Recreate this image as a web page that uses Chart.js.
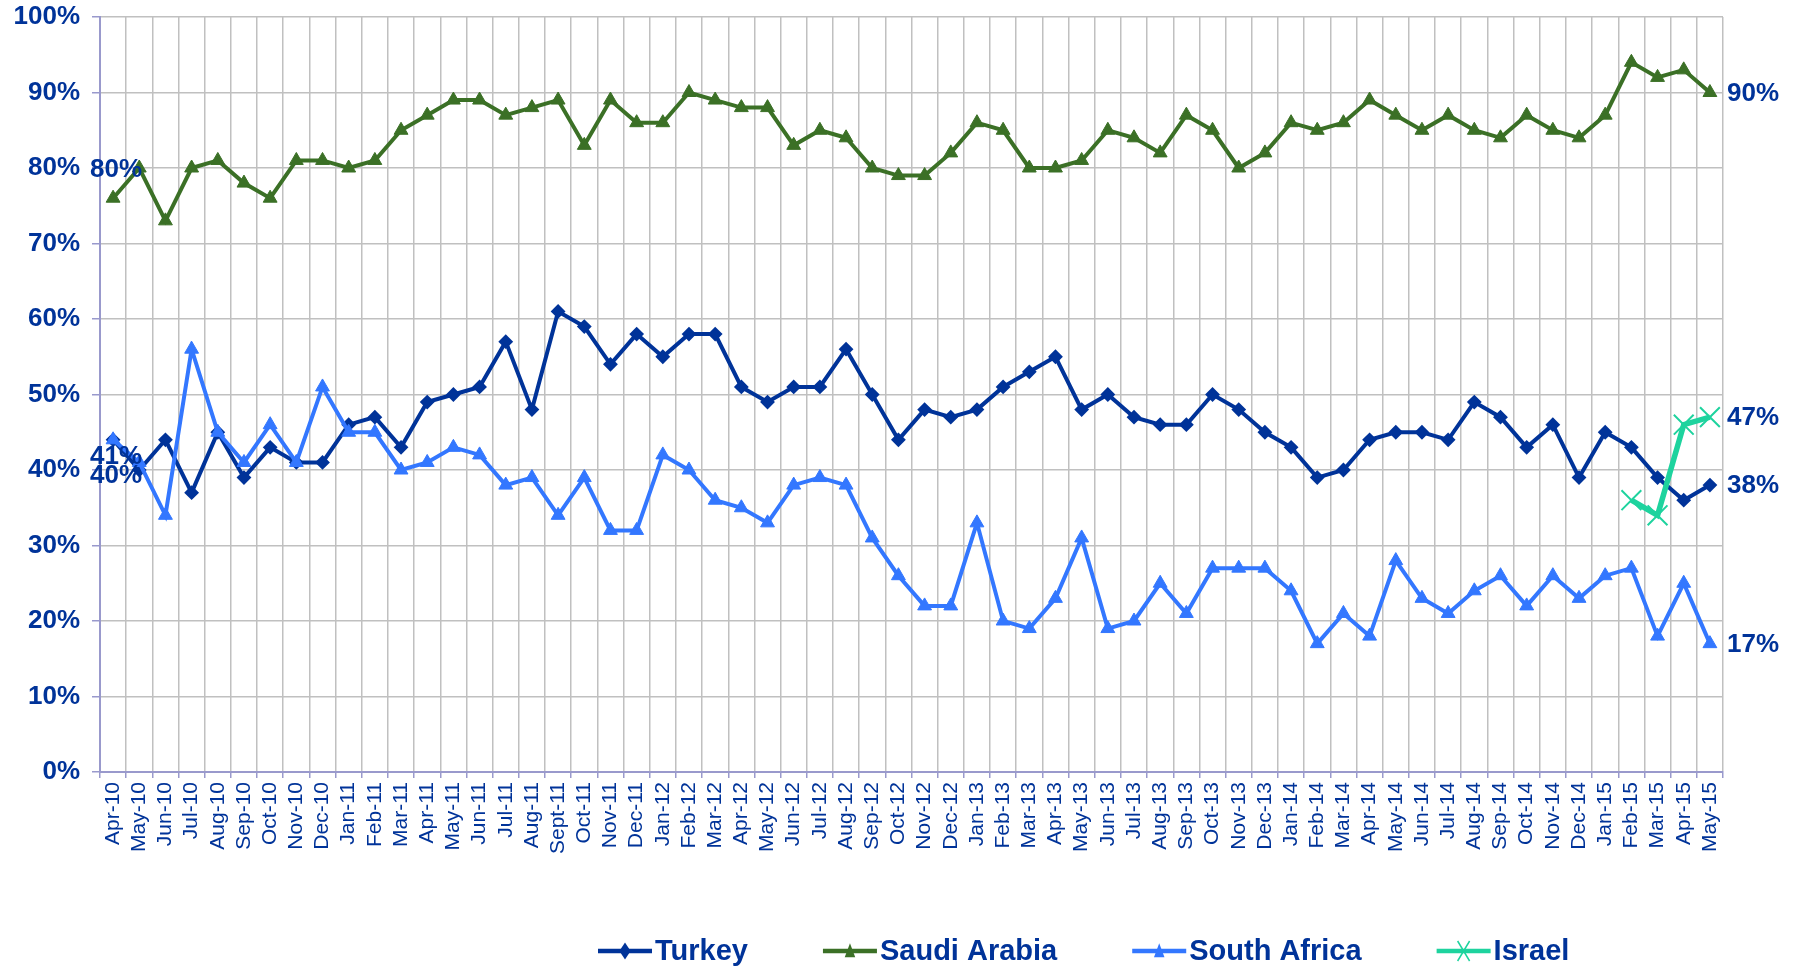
<!DOCTYPE html>
<html>
<head>
<meta charset="utf-8">
<script src="https://cdn.jsdelivr.net/npm/chart.js@4.4.1/dist/chart.umd.min.js"></script>
<style>
    html, body { margin: 0; padding: 0; background: #fff; }
    #wrap { width: 1794px; height: 967px; }
</style>
</head>
<body>
<div id="wrap"><canvas id="trendChart"></canvas></div>
<script>
const trendChart = document.getElementById('trendChart');

const FONT = '"Liberation Sans", Arial, sans-serif';
const TEXT_BLUE = '#003399';

const months = [
    'Apr-10', 'May-10', 'Jun-10', 'Jul-10', 'Aug-10', 'Sep-10', 'Oct-10', 'Nov-10', 'Dec-10',
    'Jan-11', 'Feb-11', 'Mar-11', 'Apr-11', 'May-11', 'Jun-11', 'Jul-11', 'Aug-11', 'Sept-11', 'Oct-11', 'Nov-11', 'Dec-11',
    'Jan-12', 'Feb-12', 'Mar-12', 'Apr-12', 'May-12', 'Jun-12', 'Jul-12', 'Aug-12', 'Sep-12', 'Oct-12', 'Nov-12', 'Dec-12',
    'Jan-13', 'Feb-13', 'Mar-13', 'Apr-13', 'May-13', 'Jun-13', 'Jul-13', 'Aug-13', 'Sep-13', 'Oct-13', 'Nov-13', 'Dec-13',
    'Jan-14', 'Feb-14', 'Mar-14', 'Apr-14', 'May-14', 'Jun-14', 'Jul-14', 'Aug-14', 'Sep-14', 'Oct-14', 'Nov-14', 'Dec-14',
    'Jan-15', 'Feb-15', 'Mar-15', 'Apr-15', 'May-15'
];

const turkey = [
    44, 40, 44, 37, 45, 39, 43, 41, 41,
    46, 47, 43, 49, 50, 51, 57, 48, 61, 59, 54, 58,
    55, 58, 58, 51, 49, 51, 51, 56, 50, 44, 48, 47,
    48, 51, 53, 55, 48, 50, 47, 46, 46, 50, 48, 45,
    43, 39, 40, 44, 45, 45, 44, 49, 47, 43, 46, 39,
    45, 43, 39, 36, 38
];

const saudiArabia = [
    76, 80, 73, 80, 81, 78, 76, 81, 81,
    80, 81, 85, 87, 89, 89, 87, 88, 89, 83, 89, 86,
    86, 90, 89, 88, 88, 83, 85, 84, 80, 79, 79, 82,
    86, 85, 80, 80, 81, 85, 84, 82, 87, 85, 80, 82,
    86, 85, 86, 89, 87, 85, 87, 85, 84, 87, 85, 84,
    87, 94, 92, 93, 90
];

const southAfrica = [
    44, 41, 34, 56, 45, 41, 46, 41, 51,
    45, 45, 40, 41, 43, 42, 38, 39, 34, 39, 32, 32,
    42, 40, 36, 35, 33, 38, 39, 38, 31, 26, 22, 22,
    33, 20, 19, 23, 31, 19, 20, 25, 21, 27, 27, 27,
    24, 17, 21, 18, 28, 23, 21, 24, 26, 22, 26, 23,
    26, 27, 18, 25, 17
];

const israel = [
    null, null, null, null, null, null, null, null, null,
    null, null, null, null, null, null, null, null, null, null, null, null,
    null, null, null, null, null, null, null, null, null, null, null, null,
    null, null, null, null, null, null, null, null, null, null, null, null,
    null, null, null, null, null, null, null, null, null, null, null, null,
    null, 36, 34, 46, 47
];

const yTicks = [0, 10, 20, 30, 40, 50, 60, 70, 80, 90, 100];

// value labels: [dataset index, point index]
const startLabels = [[1, 1], [2, 1], [0, 1]];
const endLabels = [[1, 61], [3, 61], [0, 61], [2, 61]];

function marker(ctx, style, color, cx, cy, r) {
    ctx.fillStyle = color;
    ctx.strokeStyle = color;
    ctx.beginPath();
    if (style === 'rectRot') {
        ctx.moveTo(cx, cy - r * 1.2);
        ctx.lineTo(cx + r * 0.8, cy);
        ctx.lineTo(cx, cy + r * 1.2);
        ctx.lineTo(cx - r * 0.8, cy);
        ctx.closePath();
        ctx.fill();
    } else if (style === 'triangle') {
        ctx.moveTo(cx, cy - r * 1.1);
        ctx.lineTo(cx + r * 0.75, cy + r * 0.9);
        ctx.lineTo(cx - r * 0.75, cy + r * 0.9);
        ctx.closePath();
        ctx.fill();
    } else {
        ctx.lineWidth = 1.5;
        ctx.moveTo(cx - r * 0.6, cy - r);
        ctx.lineTo(cx + r * 0.6, cy + r);
        ctx.moveTo(cx + r * 0.6, cy - r);
        ctx.lineTo(cx - r * 0.6, cy + r);
        ctx.stroke();
    }
}

const labelsPlugin = {
    id: 'valueLabels',
    afterDatasetsDraw(chart) {
        const ctx = chart.ctx;
        const xs = chart.scales.x;
        const ys = chart.scales.y;
        const ds = chart.data.datasets;
        ctx.save();
        ctx.font = 'bold 26px ' + FONT;
        ctx.fillStyle = TEXT_BLUE;
        ctx.textBaseline = 'middle';
        ctx.textAlign = 'center';
        const nudge = [2, -6, 6];
        startLabels.forEach(([d, i], k) => {
            const v = ds[d].data[i];
            ctx.fillText(v + '%', xs.getPixelForValue(0) + 3, ys.getPixelForValue(v) + nudge[k]);
        });
        ctx.textAlign = 'left';
        endLabels.forEach(([d, i]) => {
            const v = ds[d].data[i];
            ctx.fillText(v + '%', chart.chartArea.right + 4, ys.getPixelForValue(v) + 1);
        });
        ctx.restore();
    },
    afterDraw(chart) {
        // legend: line sample with marker, then name
        const ctx = chart.ctx;
        ctx.save();
        ctx.font = 'bold 29px ' + FONT;
        ctx.textBaseline = 'middle';
        ctx.textAlign = 'left';
        let x = 598;
        const y = 951;
        chart.data.datasets.forEach((d) => {
            ctx.strokeStyle = d.borderColor;
            ctx.lineWidth = 4.5;
            ctx.beginPath();
            ctx.moveTo(x, y);
            ctx.lineTo(x + 54, y);
            ctx.stroke();
            marker(ctx, d.pointStyle, d.borderColor, x + 27, y, d.pointStyle === 'crossRot' ? 10 : 7);
            ctx.fillStyle = TEXT_BLUE;
            ctx.fillText(d.label, x + 57, y + 1);
            x += 57 + ctx.measureText(d.label).width + 75;
        });
        ctx.restore();
    }
};

new Chart(trendChart, {
    type: 'line',
    data: {
        labels: months,
        datasets: [
            {
                label: 'Turkey',
                data: turkey,
                borderColor: '#003399',
                backgroundColor: '#003399',
                borderWidth: 4,
                pointStyle: 'rectRot',
                pointRadius: 6,
                pointBorderWidth: 2,
                order: 4,
            },
            {
                label: 'Saudi Arabia',
                data: saudiArabia,
                borderColor: '#3B7026',
                backgroundColor: '#3B7026',
                borderWidth: 4,
                pointStyle: 'triangle',
                pointRadius: 8,
                pointBorderWidth: 1,
                order: 3,
            },
            {
                label: 'South Africa',
                data: southAfrica,
                borderColor: '#3377FF',
                backgroundColor: '#3377FF',
                borderWidth: 4,
                pointStyle: 'triangle',
                pointRadius: 8,
                pointBorderWidth: 1,
                order: 2,
            },
            {
                label: 'Israel',
                data: israel,
                borderColor: '#1ED39E',
                backgroundColor: '#1ED39E',
                borderWidth: 5.5,
                pointStyle: 'crossRot',
                pointRadius: 14,
                pointBorderWidth: 2,
                order: 1,
            },
        ],
    },
    options: {
        responsive: true,
        maintainAspectRatio: false,
        animation: false,
        layout: {
            padding: { top: 17, right: 71, bottom: 0, left: 0 },
        },
        elements: {
            line: { tension: 0 },
        },
        plugins: {
            legend: { display: false },
            tooltip: { enabled: false },
        },
        scales: {
            x: {
                offset: true,
                grid: {
                    offset: true,
                    color: '#C0C0C0',
                    lineWidth: 1.5,
                    tickColor: '#9999CC',
                    tickLength: 6,
                },
                border: { color: '#9999CC', width: 2 },
                ticks: {
                    color: TEXT_BLUE,
                    font: { family: FONT, size: 21 },
                    maxRotation: 90,
                    minRotation: 90,
                    autoSkip: false,
                    padding: 4,
                },
                afterFit: (scale) => {
                    scale.height = 195;
                    scale.paddingLeft = 0;
                    scale.paddingRight = 0;
                },
            },
            y: {
                min: 0,
                max: 100,
                afterBuildTicks: (scale) => { scale.ticks = yTicks.map((v) => ({ value: v })); },
                grid: {
                    color: '#C0C0C0',
                    lineWidth: 1.5,
                    tickColor: '#9999CC',
                    tickLength: 8,
                },
                border: { color: '#9999CC', width: 2 },
                ticks: {
                    color: TEXT_BLUE,
                    font: { family: FONT, size: 26, weight: 'bold' },
                    padding: 12,
                    callback: (v) => v + '%',
                },
                afterFit: (scale) => {
                    scale.width = 100;
                    scale.paddingTop = 0;
                    scale.paddingBottom = 0;
                },
            },
        },
    },
    plugins: [labelsPlugin],
});
</script>
</body>
</html>
